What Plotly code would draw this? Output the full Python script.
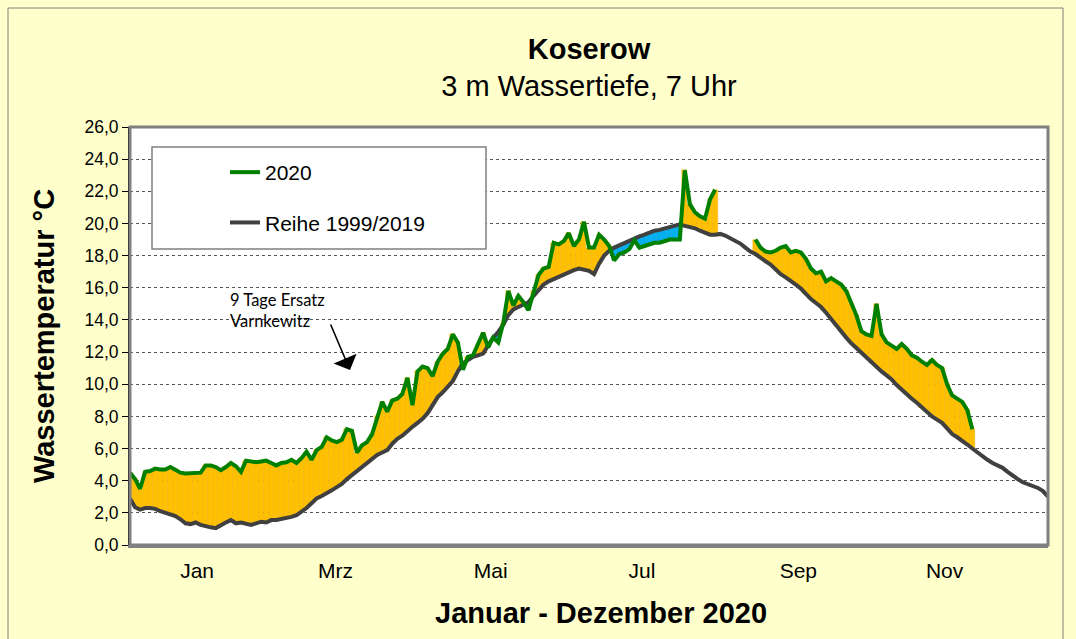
import plotly.graph_objects as go

# ---------------- data ----------------
days = list(range(1, 366, 2))  # day of year 2020, every second day

mean_1999_2019 = [
    2.9, 2.35, 2.2, 2.3, 2.3, 2.25, 2.1, 2.0, 1.9, 1.8,
    1.6, 1.35, 1.3, 1.4, 1.25, 1.15, 1.1, 1.05, 1.25, 1.4,
    1.55, 1.35, 1.4, 1.3, 1.25, 1.35, 1.45, 1.4, 1.55, 1.55,
    1.6, 1.65, 1.75, 1.85, 2.05, 2.3, 2.6, 2.9, 3.05, 3.2,
    3.4, 3.6, 3.8, 4.1, 4.35, 4.6, 4.9, 5.15, 5.35, 5.6,
    5.75, 5.9, 6.3, 6.6, 6.8, 7.1, 7.35, 7.6, 7.85, 8.2,
    8.7, 9.2, 9.5, 9.85, 10.2, 10.8, 11.3, 11.5, 11.7, 11.8,
    11.9, 12.4, 12.9, 13.25, 13.7, 14.3, 14.65, 14.8, 14.95, 15.1,
    15.5, 15.9, 16.2, 16.4, 16.55, 16.7, 16.85, 17.0, 17.1, 17.2,
    17.15, 17.05, 16.85, 17.5, 18.0, 18.3, 18.5, 18.65, 18.8, 18.9,
    19.05, 19.2, 19.3, 19.45, 19.55, 19.6, 19.7, 19.75, 19.85, 19.95,
    19.85, 19.8, 19.7, 19.55, 19.45, 19.3, 19.3, 19.35, 19.25, 19.1,
    18.95, 18.75, 18.5, 18.25, 18.1, 17.85, 17.65, 17.45, 17.15, 16.85,
    16.65, 16.45, 16.2, 15.95, 15.6, 15.3, 15.05, 14.8, 14.45, 14.05,
    13.65, 13.25, 12.9, 12.55, 12.25, 12.0, 11.7, 11.35, 11.05, 10.8,
    10.55, 10.3, 9.95, 9.65, 9.4, 9.1, 8.85, 8.55, 8.25, 8.0,
    7.8, 7.6, 7.25, 6.9, 6.7, 6.5, 6.25, 6.0, 5.75, 5.5,
    5.3, 5.1, 4.95, 4.8, 4.55, 4.3, 4.1, 3.9, 3.8, 3.7,
    3.55, 3.35, 3.0,
]

temp_2020 = [
    4.5, 4.1, 3.5, 4.55, 4.6, 4.75, 4.7, 4.7, 4.85, 4.7,
    4.5, 4.45, 4.45, 4.5, 4.5, 4.95, 4.95, 4.85, 4.65, 4.85,
    5.1, 4.9, 4.55, 5.25, 5.2, 5.15, 5.2, 5.25, 5.1, 4.95,
    5.1, 5.15, 5.3, 5.1, 5.4, 5.8, 5.3, 5.9, 6.1, 6.7,
    6.5, 6.4, 6.55, 7.2, 7.1, 5.75, 6.2, 6.4, 6.9, 8.0,
    8.9, 8.3, 9.0, 9.1, 9.4, 10.4, 8.7, 10.8, 11.1, 11.0,
    10.5, 11.4, 11.9, 12.2, 13.1, 12.6, 10.9, 11.7, 11.8, 12.5,
    13.2, 12.3, 12.9, 12.6, 13.8, 15.8, 14.9, 15.5, 15.1, 14.6,
    15.8, 16.8, 17.2, 17.3, 18.8, 18.7, 18.9, 19.4, 18.6, 19.0,
    20.1, 18.5, 18.5, 19.3, 19.0, 18.6, 17.7, 18.1, 18.2, 18.4,
    18.95, 18.5, 18.6, 18.7, 18.8, 18.8, 18.9, 19.0, 19.0, 19.0,
    23.3, 21.2, 20.7, 20.45, 20.3, 21.5, 22.1, None, None, None,
    None, None, None, None, 19.0, 18.5, 18.25, 18.2, 18.3, 18.5,
    18.6, 18.2, 18.3, 18.2, 17.8, 17.2, 16.9, 17.0, 16.4, 16.6,
    16.4, 16.2, 15.8, 15.0, 14.3, 13.3, 13.1, 13.0, 15.0, 13.1,
    12.6, 12.4, 12.2, 12.5, 12.2, 11.8, 11.65, 11.4, 11.2, 11.5,
    11.2, 11.0, 10.0, 9.3, 9.1, 8.9, 8.4, 7.2, None, None,
    None, None, None, None, None, None, None, None, None, None,
    None, None, None,
]

month_labels = ["Jan", "Mrz", "Mai", "Jul", "Sep", "Nov"]
month_label_days = [27.6, 82.5, 144, 204, 266, 324]

y_ticks = list(range(0, 27, 2))

# ---------------- styling ----------------
FONT = "Liberation Sans, Arial, sans-serif"
ORANGE = "#FFC000"
BLUE = "#00B0F0"
GREEN = "#008000"
GREY = "#404040"

# bars spanning between the two series (orange = warmer, blue = colder)
bar_x, bar_base, bar_h, bar_col, bar_edge = [], [], [], [], []
for d, m, t in zip(days, mean_1999_2019, temp_2020):
    if t is None:
        continue
    lo, hi = min(m, t), max(m, t)
    bar_x.append(d)
    bar_base.append(lo)
    bar_h.append(hi - lo)
    warm = t >= m
    bar_col.append(ORANGE if warm else BLUE)
    bar_edge.append("rgba(235,165,0,0.7)" if warm else "rgba(0,150,210,0.7)")

fig = go.Figure()
fig.add_trace(go.Bar(
    x=bar_x, y=bar_h, base=bar_base, width=2,
    marker=dict(color=bar_col, line=dict(width=0.5, color=bar_edge)),
    showlegend=False, hoverinfo="skip",
))
fig.add_trace(go.Scatter(
    x=days, y=mean_1999_2019, mode="lines", name="Reihe 1999/2019",
    line=dict(color=GREY, width=4), legendrank=2, legendgroup="b",
))
fig.add_trace(go.Scatter(
    x=days, y=temp_2020, mode="lines", name="2020", connectgaps=False,
    line=dict(color=GREEN, width=4), legendrank=1, legendgroup="a",
))

def px_x(px):
    return (px - 130) / 918.0

def px_y(py):
    return (545 - py) / 418.0

fig.update_layout(
    width=1076, height=639,
    margin=dict(l=130, r=28, t=127, b=94),
    paper_bgcolor="#FFFFCC",
    plot_bgcolor="#FFFFFF",
    separators=",.",
    font=dict(family=FONT, color="#000000"),
    title=dict(
        text="<b>Koserow</b><br>3 m Wassertiefe, 7 Uhr",
        x=0.5, xref="paper", xanchor="center",
        y=1 - 58.5 / 639, yanchor="middle",
        font=dict(family=FONT, size=29, color="#000000"),
    ),
    bargap=0,
    showlegend=True,
    legend=dict(
        x=px_x(225), y=px_y(152), xanchor="left", yanchor="top",
        bgcolor="rgba(0,0,0,0)", borderwidth=0,
        font=dict(family=FONT, size=21, color="#000000"),
        tracegroupgap=20,
    ),
    xaxis=dict(
        range=[1, 365],
        tickmode="array", tickvals=month_label_days, ticktext=month_labels,
        ticks="", showgrid=False, zeroline=False,
        showline=True, linecolor="#808080", linewidth=3,
        tickfont=dict(family=FONT, size=21),
        ticklabelstandoff=5,
    ),
    yaxis=dict(
        range=[0, 26],
        tickmode="array", tickvals=y_ticks, tickformat=".1f",
        ticks="outside", ticklen=6, tickcolor="#000000", tickwidth=1,
        showline=True, linecolor="#000000", linewidth=2,
        showgrid=True, gridcolor="#555555", griddash="dot", gridwidth=1,
        zeroline=False,
        tickfont=dict(family=FONT, size=17.5),
        title=dict(text="<b>Wassertemperatur °C</b>",
                   font=dict(family=FONT, size=29), standoff=21),
    ),
    shapes=[
        # outer chart border
        dict(type="rect", xref="paper", yref="paper",
             x0=px_x(8), x1=px_x(1063), y0=px_y(660), y1=px_y(8),
             line=dict(color="#7F7F7F", width=1), fillcolor="rgba(0,0,0,0)",
             layer="below"),
        # plot area frame
        dict(type="rect", xref="paper", yref="paper",
             x0=0, x1=1, y0=0, y1=1,
             line=dict(color="#808080", width=3), fillcolor="rgba(0,0,0,0)",
             layer="above"),
        # legend box
        dict(type="rect", xref="paper", yref="paper",
             x0=px_x(152), x1=px_x(486), y0=px_y(249), y1=px_y(147),
             line=dict(color="#808080", width=1.5), fillcolor="#FFFFFF",
             layer="above"),
    ],
    annotations=[
        dict(text="<b>Januar - Dezember 2020</b>", xref="paper", yref="paper",
             x=px_x(601), y=px_y(613), xanchor="center", yanchor="middle",
             showarrow=False, font=dict(family=FONT, size=29)),
        dict(text="9 Tage Ersatz<br>Varnkewitz", xref="x", yref="y",
             x=(228 - 130) / 2.522 + 1, y=(545 - 288) / 16.08,
             xanchor="left", yanchor="top", align="left", showarrow=False,
             font=dict(family="Lato, Open Sans, sans-serif", size=16.5, color="#000000")),
        dict(text="", xref="x", yref="y",
             x=(350 - 130) / 2.522 + 1, y=(545 - 370) / 16.08,
             ax=-20, ay=-47, showarrow=True,
             arrowhead=1, arrowsize=2.6, arrowwidth=1.6, arrowcolor="#000000"),
    ],
)

fig.write_html(
    "out.html",
    config={"displayModeBar": False},
    post_script="document.body.style.margin='0';document.body.style.overflow='hidden';",
)
